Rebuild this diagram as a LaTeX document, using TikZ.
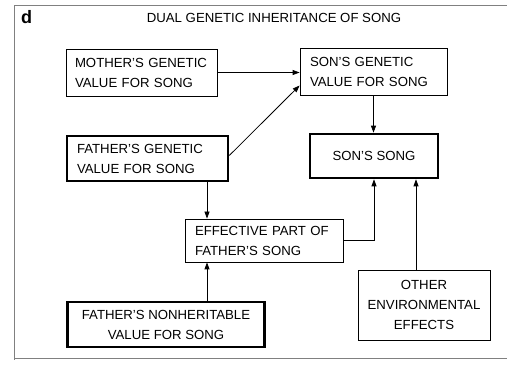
\documentclass[tikz,border=0pt]{standalone}
\usepackage{fontspec}
\setmainfont{Liberation Sans}
\usetikzlibrary{arrows.meta}

\begin{document}
\begin{tikzpicture}[x=1pt,y=-1pt,
  box/.style={draw,line width=0.8pt,inner sep=0pt,font=\fontsize{13.2}{20}\selectfont},
  thickbox/.style={box,line width=2.6pt},
  arr/.style={line width=0.8pt,-{Triangle[length=7pt,width=5pt]}}]
\useasboundingbox (0,0) rectangle (507,366);
% frame
\draw[gray,line width=0.8pt] (507,5) -- (14,5) -- (14,360) (14,358) -- (507,358);
\node[anchor=base west,inner sep=0pt,font=\fontsize{18}{18}\selectfont\bfseries] (panel) at (21,24) {d};
\node[anchor=base,inner sep=0pt,font=\fontsize{13.2}{15}\selectfont] (title) at (274,23) {DUAL GENETIC INHERITANCE OF SONG};

% boxes
\node[box,minimum width=151,minimum height=47,text width=133,align=left] (mother) at (141.5,72.5) {MOTHER'S GENETIC\\VALUE FOR SONG};
\node[box,minimum width=147,minimum height=47,text width=127,align=left] (songen) at (373.5,71.5) {SON'S GENETIC\\VALUE FOR SONG};
\node[thickbox,minimum width=161,minimum height=45,text width=141,align=left] (fathgen) at (147.5,158.5) {FATHER'S GENETIC\\VALUE FOR SONG};
\node[thickbox,minimum width=128,minimum height=44] (sonsong) at (374,156) {SON'S SONG};
\node[box,minimum width=158,minimum height=43,text width=138,align=left] (effective) at (264,240.5) {EFFECTIVE PART OF\\FATHER'S SONG};
\node[box,minimum width=132,minimum height=70,align=center] (otherenv) at (424,305) {OTHER\\ENVIRONMENTAL\\EFFECTS};
\node[thickbox,minimum width=197,minimum height=45,align=center] (nonher) at (166,324.5) {FATHER'S NONHERITABLE\\VALUE FOR SONG};

\coordinate (faxis) at (207,0);
\coordinate (oaxis) at (416,0);

% arrows
\draw[arr] (mother.east) -- (mother.east -| songen.west);
\draw[arr] ([yshift=3pt]fathgen.east) -- ([yshift=-14pt]songen.west);
\draw[arr] (songen.south) -- (songen.south |- sonsong.north);
\draw[arr] (fathgen.south -| faxis) -- (effective.north -| faxis);
\draw[arr] (nonher.north -| faxis) -- (effective.south -| faxis);
\draw[arr] (effective.east) -| (sonsong.south);
\draw[arr] (otherenv.north -| oaxis) -- (sonsong.south -| oaxis);
\end{tikzpicture}
\end{document}
